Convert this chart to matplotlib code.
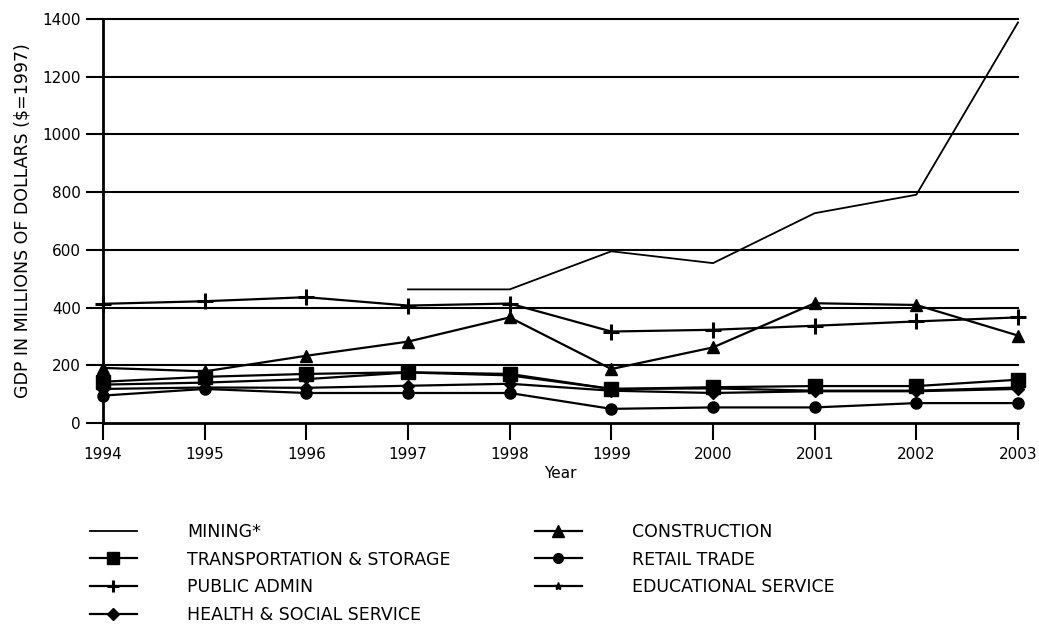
import matplotlib.pyplot as plt
from matplotlib.lines import Line2D

years = [1994, 1995, 1996, 1997, 1998, 1999, 2000, 2001, 2002, 2003]
mining_years = [1997, 1998, 1999, 2000, 2001, 2002, 2003]
mining = [463, 463, 595, 554, 727, 791, 1388]
construction = [191, 179, 233, 282, 366, 187, 262, 415, 409, 303]
transport = [143, 160, 170, 176, 170, 118, 124, 128, 128, 150]
retail = [95, 118, 104, 104, 104, 49, 54, 54, 69, 69]
public_admin = [413, 422, 436, 407, 414, 317, 323, 337, 352, 366]
education = [133, 140, 152, 175, 165, 118, 120, 112, 112, 123]
health = [118, 123, 122, 129, 136, 112, 104, 110, 110, 118]
yticks = [0, 200, 400, 600, 800, 1000, 1200, 1400]

plt.rcParams['font.family'] = ['DejaVu Sans']
fig = plt.figure(figsize=(10.39, 6.28), dpi=100)
ax = fig.add_axes([103/1039, 1-423/628, 915/1039, 404/628])

# horizontal rules at each 200
for v in yticks[1:]:
    ax.axhline(v, color='black', lw=1.5, zorder=1, clip_on=False)

lw = 1.6
ax.plot(mining_years, mining, color='black', lw=1.3, zorder=3, clip_on=False)
ax.plot(years, construction, color='black', lw=lw, marker='^', ms=9, zorder=3, clip_on=False)
ax.plot(years, transport, color='black', lw=lw, marker='s', ms=10, zorder=3, clip_on=False)
ax.plot(years, retail, color='black', lw=lw, marker='o', ms=8, zorder=3, clip_on=False)
ax.plot(years, public_admin, color='black', lw=lw, marker='+', ms=11, mew=2.2, zorder=3, clip_on=False)
ax.plot(years, education, color='black', lw=lw, marker='*', ms=6, zorder=3, clip_on=False)
ax.plot(years, health, color='black', lw=lw, marker='D', ms=6, zorder=3, clip_on=False)

ax.set_xlim(1994, 2003)
ax.set_ylim(0, 1400)
ax.set_xticks(years)
ax.set_yticks(yticks)
ax.tick_params(axis='both', direction='out', length=12, width=1.5, labelsize=11, colors='black')
ax.tick_params(axis='x', pad=5)
ax.tick_params(axis='y', pad=4)
for s in ['top', 'right']:
    ax.spines[s].set_visible(False)
for s in ['left', 'bottom']:
    ax.spines[s].set_linewidth(2)
ax.set_xlabel('Year', fontsize=11, labelpad=3)
ax.set_ylabel('GDP IN MILLIONS OF DOLLARS ($=1997)', fontsize=12.5, labelpad=8)

def h(marker, ms, mew=1.0):
    return Line2D([], [], color='black', lw=1.6, marker=marker, ms=ms, mew=mew)

left_handles = [Line2D([], [], color='black', lw=1.3), h('s', 9), h('+', 9, 2.2), h('D', 6)]
left_labels = ['MINING*', 'TRANSPORTATION & STORAGE', 'PUBLIC ADMIN', 'HEALTH & SOCIAL SERVICE']
right_handles = [h('^', 8), h('o', 7), h('*', 6)]
right_labels = ['CONSTRUCTION', 'RETAIL TRADE', 'EDUCATIONAL SERVICE']

kw = dict(frameon=False, fontsize=12.5, handlelength=2.7, handletextpad=2.9,
          labelspacing=0.55, loc='upper left', borderaxespad=0, borderpad=0)
leg1 = fig.legend(left_handles, left_labels, bbox_to_anchor=(90/1039, 1-523/628), **kw)
leg2 = fig.legend(right_handles, right_labels, bbox_to_anchor=(535/1039, 1-523/628), **kw)

plt.savefig('out.png', dpi=100)
